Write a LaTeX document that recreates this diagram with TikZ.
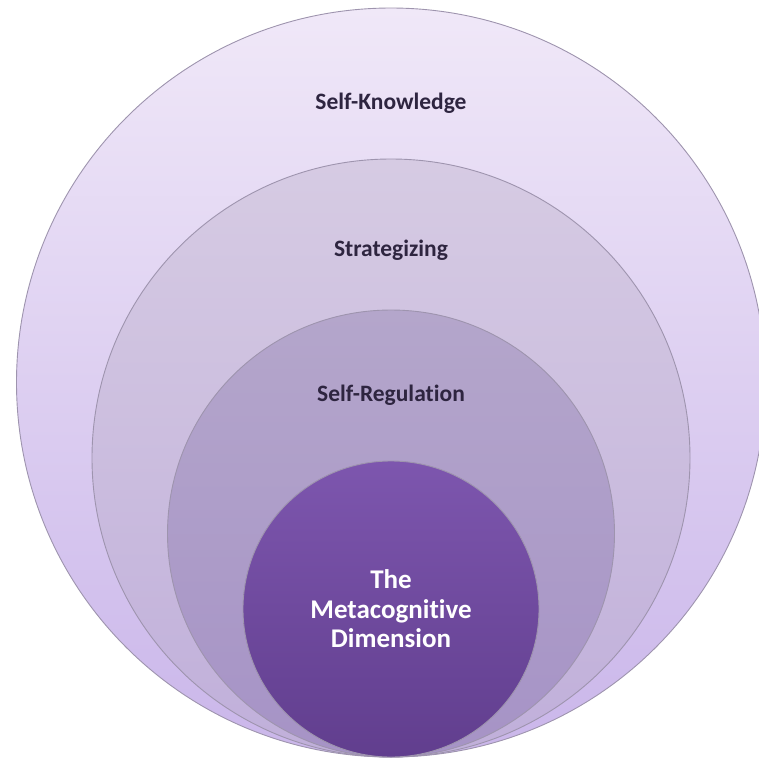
\documentclass[tikz,border=0pt]{standalone}
\usepackage{fontspec}
\setmainfont[Ligatures={NoCommon}]{Carlito}
\definecolor{edge}{HTML}{9E94AE}
\definecolor{lab}{HTML}{2E2540}
\definecolor{c1t}{HTML}{F0E8F8}
\definecolor{c1b}{HTML}{CAB6EA}
\definecolor{c2t}{HTML}{D6CBE3}
\definecolor{c2b}{HTML}{C0AFDA}
\definecolor{c3t}{HTML}{B4A6CB}
\definecolor{c3b}{HTML}{A693C6}
\definecolor{c4t}{HTML}{7D56AE}
\definecolor{c4b}{HTML}{613E8E}
\begin{document}
\begin{tikzpicture}[x=1pt,y=-1pt,
  ring/.style={circle,draw=edge,line width=0.9pt,inner sep=0pt,shading=axis,shading angle=0},
  lbl/.style={font=\bfseries\fontsize{23.5}{28}\selectfont,text=lab}]
\useasboundingbox (0,0) rectangle (759,761);
\node[ring,minimum size=749pt,top color=c1t,bottom color=c1b] (c1) at (391,382.5) {};
\node[ring,minimum size=598pt,top color=c2t,bottom color=c2b] (c2) at (391,458) {};
\node[ring,minimum size=447pt,top color=c3t,bottom color=c3b] (c3) at (391,533.5) {};
\node[ring,minimum size=296pt,top color=c4t,bottom color=c4b] (c4) at (391,609) {};
\node[lbl] (t1) at (391,103) {Self-Knowledge};
\node[lbl] (t2) at (391,250) {Strategizing};
\node[lbl] (t3) at (391,395) {Self-Regulation};
\node[font=\bfseries\fontsize{27}{29.5}\selectfont,text=white,align=center] (t4) at (391,609) {The\\Metacognitive\\Dimension};
\end{tikzpicture}
\end{document}
